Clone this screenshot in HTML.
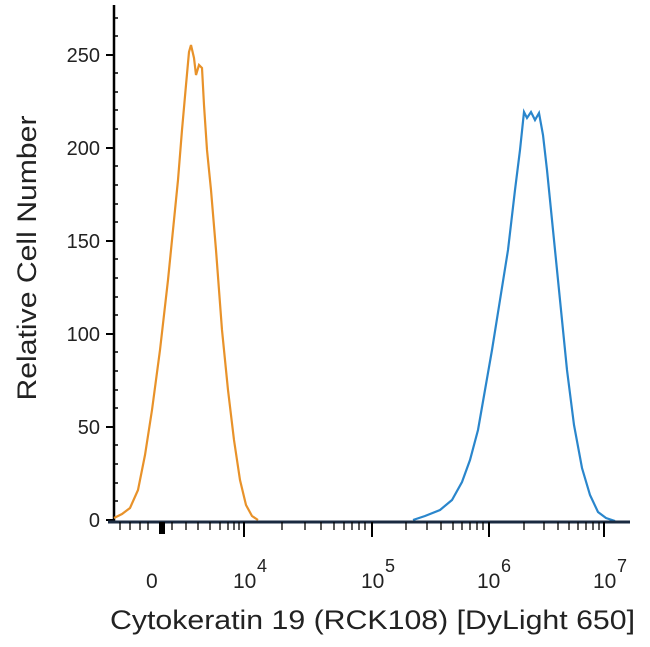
<!DOCTYPE html>
<html><head><style>body{margin:0;background:#fff}svg{display:block}</style></head><body>
<svg width="650" height="647" viewBox="0 0 650 647" xmlns="http://www.w3.org/2000/svg" font-family="Liberation Sans, sans-serif">
<rect width="650" height="647" fill="#fff"/>
<line x1="114" y1="5" x2="114" y2="523" stroke="#000" stroke-width="2.5"/>
<g stroke="#000" stroke-width="2">
<line x1="106" y1="55" x2="114" y2="55"/><line x1="106" y1="148" x2="114" y2="148"/><line x1="106" y1="241" x2="114" y2="241"/><line x1="106" y1="334" x2="114" y2="334"/><line x1="106" y1="427" x2="114" y2="427"/><line x1="106" y1="520" x2="114" y2="520"/>
</g>
<g stroke="#000" stroke-width="1.5">
<line x1="114" y1="18" x2="118" y2="18"/><line x1="114" y1="36" x2="118" y2="36"/><line x1="114" y1="73" x2="118" y2="73"/><line x1="114" y1="92" x2="118" y2="92"/><line x1="114" y1="110" x2="118" y2="110"/><line x1="114" y1="129" x2="118" y2="129"/><line x1="114" y1="166" x2="118" y2="166"/><line x1="114" y1="185" x2="118" y2="185"/><line x1="114" y1="204" x2="118" y2="204"/><line x1="114" y1="222" x2="118" y2="222"/><line x1="114" y1="259" x2="118" y2="259"/><line x1="114" y1="278" x2="118" y2="278"/><line x1="114" y1="297" x2="118" y2="297"/><line x1="114" y1="315" x2="118" y2="315"/><line x1="114" y1="352" x2="118" y2="352"/><line x1="114" y1="371" x2="118" y2="371"/><line x1="114" y1="390" x2="118" y2="390"/><line x1="114" y1="408" x2="118" y2="408"/><line x1="114" y1="445" x2="118" y2="445"/><line x1="114" y1="464" x2="118" y2="464"/><line x1="114" y1="483" x2="118" y2="483"/><line x1="114" y1="501" x2="118" y2="501"/>
</g>
<g font-size="20" fill="#222" text-anchor="end">
<text x="100" y="62">250</text><text x="100" y="155">200</text><text x="100" y="248">150</text><text x="100" y="341">100</text><text x="100" y="434">50</text><text x="100" y="527">0</text>
</g>
<text transform="translate(36,258) rotate(-90)" font-size="27" fill="#222" text-anchor="middle" textLength="285" lengthAdjust="spacingAndGlyphs">Relative Cell Number</text>
<path d="M114,518 L122,514 L130,508 L138,490 L145,455 L152,410 L160,350 L168,280 L174,220 L178,180 L182,130 L186,85 L189,52 L191,45 L194,58 L196,75 L199,65 L202,68 L204,105 L207,150 L211,190 L216,250 L222,330 L228,390 L234,440 L240,480 L246,505 L252,516 L258,520" fill="none" stroke="#e8922a" stroke-width="2.2"/>
<path d="M413,520 L425,516 L440,510 L452,500 L462,482 L470,460 L478,430 L485,390 L492,350 L500,300 L508,250 L515,190 L520,150 L524,112 L527,118 L531,112 L535,120 L539,113 L543,135 L547,170 L553,230 L560,300 L567,370 L574,425 L582,468 L590,495 L598,512 L606,518 L615,521" fill="none" stroke="#2a86cc" stroke-width="2.2"/>
<line x1="108" y1="522" x2="630" y2="522" stroke="#1a2a40" stroke-width="3"/>
<g stroke="#000" stroke-width="2">
<line x1="244" y1="522" x2="244" y2="537"/><line x1="372" y1="522" x2="372" y2="537"/><line x1="489" y1="522" x2="489" y2="537"/><line x1="604" y1="522" x2="604" y2="537"/>
</g>
<g stroke="#000" stroke-width="1.3">
<line x1="120" y1="522" x2="120" y2="530"/><line x1="130" y1="522" x2="130" y2="530"/><line x1="140" y1="522" x2="140" y2="530"/><line x1="148" y1="522" x2="148" y2="530"/><line x1="172" y1="522" x2="172" y2="530"/><line x1="186" y1="522" x2="186" y2="530"/><line x1="198" y1="522" x2="198" y2="530"/><line x1="210" y1="522" x2="210" y2="530"/><line x1="220" y1="522" x2="220" y2="530"/><line x1="228" y1="522" x2="228" y2="530"/><line x1="234" y1="522" x2="234" y2="530"/><line x1="239" y1="522" x2="239" y2="530"/>
<line x1="282" y1="522" x2="282" y2="530"/><line x1="305" y1="522" x2="305" y2="530"/><line x1="321" y1="522" x2="321" y2="530"/><line x1="334" y1="522" x2="334" y2="530"/><line x1="344" y1="522" x2="344" y2="530"/><line x1="352" y1="522" x2="352" y2="530"/><line x1="359" y1="522" x2="359" y2="530"/><line x1="365" y1="522" x2="365" y2="530"/>
<line x1="406" y1="522" x2="406" y2="530"/><line x1="427" y1="522" x2="427" y2="530"/><line x1="441" y1="522" x2="441" y2="530"/><line x1="453" y1="522" x2="453" y2="530"/><line x1="462" y1="522" x2="462" y2="530"/><line x1="470" y1="522" x2="470" y2="530"/><line x1="477" y1="522" x2="477" y2="530"/><line x1="483" y1="522" x2="483" y2="530"/>
<line x1="524" y1="522" x2="524" y2="530"/><line x1="544" y1="522" x2="544" y2="530"/><line x1="558" y1="522" x2="558" y2="530"/><line x1="569" y1="522" x2="569" y2="530"/><line x1="578" y1="522" x2="578" y2="530"/><line x1="586" y1="522" x2="586" y2="530"/><line x1="593" y1="522" x2="593" y2="530"/><line x1="599" y1="522" x2="599" y2="530"/>
</g>
<rect x="159" y="522" width="6" height="12" fill="#000"/>
<g font-size="21" fill="#222">
<text x="146" y="588">0</text>
<text x="233" y="588">10</text><text x="257" y="572" font-size="18">4</text>
<text x="361" y="588">10</text><text x="385" y="572" font-size="18">5</text>
<text x="477" y="588">10</text><text x="501" y="572" font-size="18">6</text>
<text x="593" y="588">10</text><text x="617" y="572" font-size="18">7</text>
</g>
<text x="110" y="629" font-size="27" fill="#222" textLength="525" lengthAdjust="spacingAndGlyphs">Cytokeratin 19 (RCK108) [DyLight 650]</text>
</svg>
</body></html>
